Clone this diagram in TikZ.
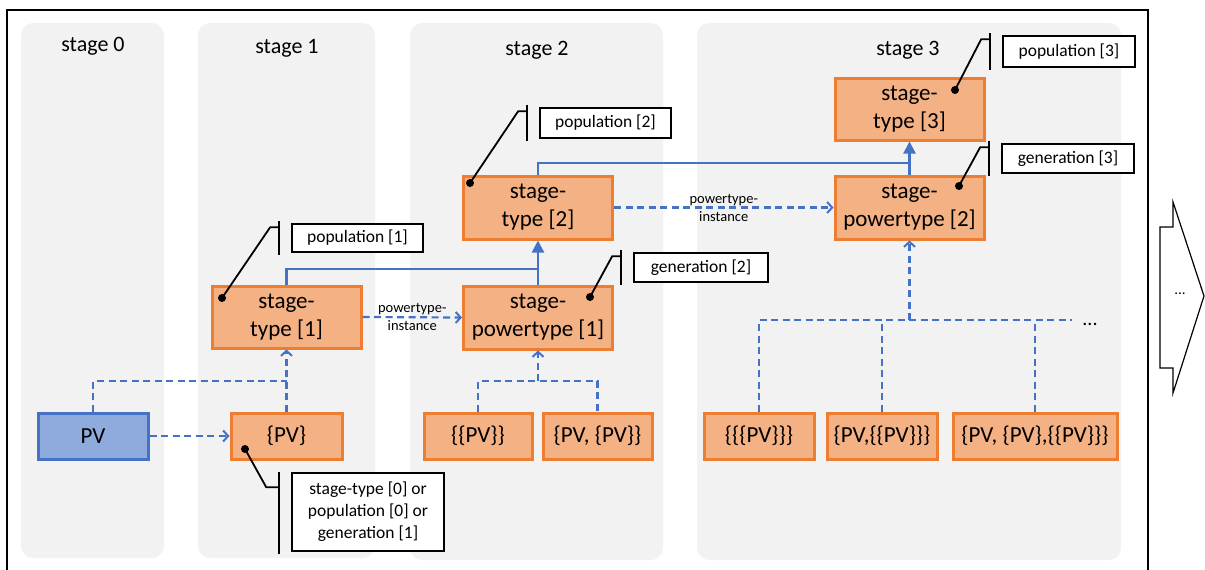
\documentclass[tikz,border=0pt]{standalone}
\usepackage{fontspec}
\setmainfont{Carlito}
\usetikzlibrary{arrows.meta,calc}
\definecolor{panelgray}{HTML}{F2F2F2}
\definecolor{orangefill}{HTML}{F4B183}
\definecolor{orangeline}{HTML}{ED7D31}
\definecolor{bluefill}{HTML}{8FAADC}
\definecolor{blueline}{HTML}{4472C4}

\begin{document}
\begin{tikzpicture}[x=1pt,y=-1pt,
  panel/.style={fill=panelgray, draw=none, rounded corners=12pt},
  stagelabel/.style={font=\fontsize{22}{26}\selectfont, inner sep=0pt},
  typebox/.style={draw=orangeline, fill=orangefill, line width=3pt, align=center,
    inner sep=0pt, minimum width=149pt, minimum height=62pt,
    font=\fontsize{23}{28}\selectfont},
  setbox/.style={typebox, minimum height=46pt},
  pvbox/.style={setbox, draw=blueline, fill=bluefill},
  note/.style={draw=black, fill=white, line width=1.6pt, align=center, inner sep=0pt,
    font=\fontsize{17.5}{22}\selectfont},
  leader/.style={draw=black, line width=1.8pt},
  accent/.style={draw=black, line width=2.2pt},
  anchordot/.style={circle, fill=black, inner sep=0pt, minimum size=8pt},
  inst/.style={draw=blueline, line width=2.2pt, dash pattern=on 7pt off 4.5pt},
  instarrow/.style={inst, -{Straight Barb[length=5pt,width=11pt,line width=2pt]}},
  spec/.style={draw=blueline, line width=2.2pt},
  specarrow/.style={spec, -{Triangle[length=12pt,width=12pt]}},
  ptlabel/.style={font=\fontsize{14.5}{18}\selectfont, align=center, inner sep=0pt}
]
\useasboundingbox (0,0) rectangle (1205,570);

% stage panels
\fill[panel] (21,23) rectangle (164,558);
\fill[panel] (198,23) rectangle (375,558);
\fill[panel] (410,23) rectangle (663,560);
\fill[panel] (697,23) rectangle (1121,560);

% outer frame
\draw[line width=1.5pt] (7,580) -- (7,10) -- (1148,10) -- (1148,580);

% stage titles
\node[stagelabel] (t0) at (93,46) {stage 0};
\node[stagelabel] (t1) at (287,48) {stage 1};
\node[stagelabel] (t2) at (537,50) {stage 2};
\node[stagelabel] (t3) at (908,50) {stage 3};

% type and set nodes
\node[pvbox, minimum width=110pt] (pv) at (93,436) {PV};
\node[setbox, minimum width=111pt] (s1) at (286.5,436) {\{PV\}};
\node[typebox] (st1) at (286.5,317) {stage-\\type [1]};
\node[typebox, minimum height=63pt] (spt1) at (538,317.5) {stage-\\powertype [1]};
\node[typebox, minimum height=63pt] (st2) at (538,207.5) {stage-\\type [2]};
\node[typebox, minimum height=63pt] (spt2) at (909.5,207.5) {stage-\\powertype [2]};
\node[typebox] (st3) at (909.5,109) {stage-\\type [3]};
\node[setbox, minimum width=108pt] (s2a) at (478,436) {\{\{PV\}\}};
\node[setbox, minimum width=109pt] (s2b) at (597.5,436) {\{PV, \{PV\}\}};
\node[setbox, minimum width=110pt] (s3a) at (759,436) {\{\{\{PV\}\}\}};
\node[setbox, minimum width=110pt] (s3b) at (882,436) {\{PV,\{\{PV\}\}\}};
\node[setbox, minimum width=164pt] (s3c) at (1035,436) {\{PV, \{PV\},\{\{PV\}\}\}};

% junction points
\coordinate (j0) at (286.5,381);
\coordinate (j1) at (538,269);
\coordinate (j2) at (909.5,163);
\coordinate (j3) at (538,381);
\coordinate (j4) at (909.5,320);
\coordinate (tailend) at (1072,320);

% stage 0 / stage 1 links
\draw[instarrow] (pv.east) -- (s1.west);
\draw[inst] (pv.north) |- (j0);
\draw[instarrow] (s1.north) -- (st1.south);

% powertype-instance links
\draw[instarrow] (st1.east) -- node[ptlabel] (pl1) {powertype-\\instance} (spt1.west);
\draw[instarrow] (st2.east) -- node[ptlabel] (pl2) {powertype-\\instance} (spt2.west);

% specialisation links
\draw[spec] (st1.north) |- (j1);
\draw[specarrow] (spt1.north) -- (st2.south);
\draw[spec] (st2.north) |- (j2);
\draw[specarrow] (spt2.north) -- (st3.south);

% stage 2 members
\draw[inst] (s2a.north) |- (j3) -| (s2b.north);
\draw[instarrow] (j3) -- (spt1.south);

% stage 3 members
\draw[inst] (s3a.north) |- (tailend);
\draw[inst] (s3b.north) -- (s3b.north |- j4);
\draw[inst] (s3c.north) -- (s3c.north |- j4);
\draw[instarrow] (j4) -- (spt2.south);
\node[font=\fontsize{20}{24}\selectfont, inner sep=0pt] (more) at (1090,324) {...};

% callouts
\node[note, minimum width=131pt, minimum height=28pt] (cp1) at (357.5,238) {population [1]};
\node[note, minimum width=131pt, minimum height=30pt] (cp2) at (605.5,123) {population [2]};
\node[note, minimum width=132pt, minimum height=31pt] (cp3) at (1069,51.5) {population [3]};
\node[note, minimum width=132pt, minimum height=29pt] (cg3) at (1068,158.5) {generation [3]};
\node[note, minimum width=134pt, minimum height=29pt] (cg2) at (701,267.5) {generation [2]};
\node[note, minimum width=152pt, minimum height=78pt] (c0) at (368,512)
  {stage-type [0] or\\population [0] or\\generation [1]};

\foreach \c in {cp1,cp2,cp3,cg3,cg2} {
  \draw[accent] ($(\c.north west)+(-12,-2)$) -- ($(\c.south west)+(-12,2)$);
}
\draw[accent] ($(c0.north west)+(-12,0)$) -- ($(c0.south west)+(-12,2)$);

\node[anchordot] (dp1) at (222,298) {};
\node[anchordot] (dp2) at (470,183) {};
\node[anchordot] (dp3) at (955,90) {};
\node[anchordot] (dg3) at (959,186) {};
\node[anchordot] (dg2) at (590,297) {};
\node[anchordot] (d0) at (245,449) {};

\foreach \d/\c in {dp1/cp1,dp2/cp2,dp3/cp3,dg3/cg3,dg2/cg2} {
  \draw[leader] (\d.center) -- ($(\c.north west)+(-21,4)$) -- ($(\c.north west)+(-12,4)$);
}
\draw[leader] (d0.center) -- ($(c0.north west)+(-25,15)$) -- ($(c0.north west)+(-12,15)$);

% continuation arrow
\draw[line width=1.2pt] (1160,227) -- (1173,227) -- (1173,202) -- (1204,296)
  -- (1173,393) -- (1173,368) -- (1160,368) -- cycle;
\node[font=\fontsize{15}{18}\selectfont, inner sep=0pt] (next) at (1180,294) {...};
\end{tikzpicture}
\end{document}
